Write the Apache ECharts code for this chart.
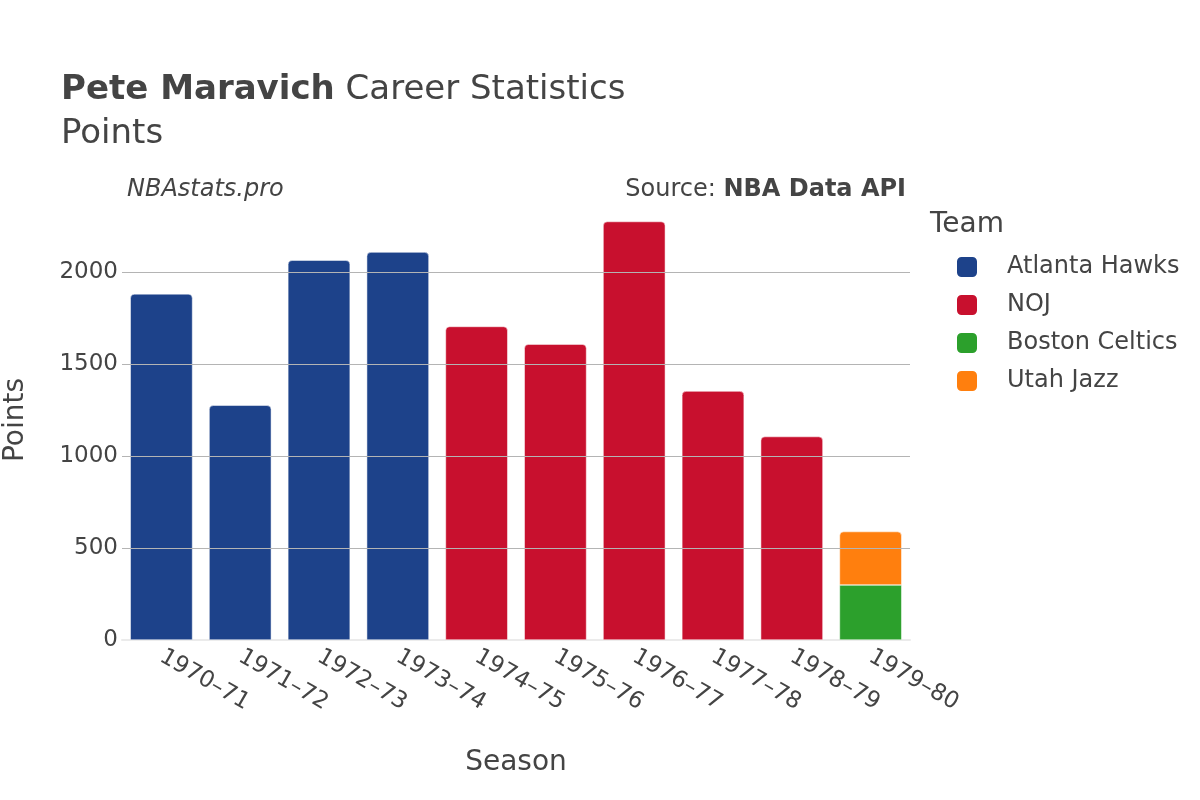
<!DOCTYPE html>
<html>
<head>
<meta charset="UTF-8">
<title>Pete Maravich Career Statistics</title>
<script src="https://cdn.jsdelivr.net/npm/echarts@6/dist/echarts.min.js"></script>
<style>
  html, body { margin: 0; padding: 0; background: #fff; }
  #main { width: 1200px; height: 800px; }
</style>
</head>
<body>
<div id="main"></div>
<script type="text/javascript">
    var seasons = ["1970–71","1971–72","1972–73","1973–74","1974–75","1975–76","1976–77","1977–78","1978–79","1979–80"];
    var atlantaHawks = [1880, 1275, 2063, 2107, null, null, null, null, null, null];
    var noj = [null, null, null, null, 1703, 1607, 2273, 1352, 1105, null];
    var bostonCeltics = [null, null, null, null, null, null, null, null, null, 299];
    var utahJazz = [null, null, null, null, null, null, null, null, null, 290];
    var gridValues = [500, 1000, 1500, 2000];

    var font = "DejaVu Sans";
    var myChart = echarts.init(document.getElementById('main'));

    function barSeries(name, data, color, radius) {
        return {
            name: name,
            type: 'bar',
            stack: 'total',
            data: data,
            barCategoryGap: '21%',
            itemStyle: { color: color, borderRadius: radius, borderColor: '#fff', borderWidth: 0.5 }
        };
    }

    var series = [
        barSeries('Atlanta Hawks', atlantaHawks, '#1d428a', [4, 4, 0, 0]),
        barSeries('NOJ', noj, '#c8102e', [4, 4, 0, 0]),
        barSeries('Boston Celtics', bostonCeltics, '#2ca02c', 0),
        barSeries('Utah Jazz', utahJazz, '#ff7f0e', [4, 4, 0, 0])
    ];
    // gridlines drawn behind bars
    series.unshift({
        type: 'line',
        data: [],
        silent: true,
        z: 0,
        markLine: {
            silent: true,
            symbol: 'none',
            label: { show: false },
            lineStyle: { color: '#b4b4b4', width: 1, type: 'solid' },
            data: gridValues.map(function (v) { return { yAxis: v }; })
        }
    });

    var option = {
        animation: false,
        textStyle: { fontFamily: font },
        title: [{
            text: '{b|Pete Maravich} Career Statistics\nPoints',
            left: 56,
            top: 63,
            textStyle: {
                fontFamily: font, fontSize: 34, fontWeight: 'normal', color: '#444', lineHeight: 44,
                rich: { b: { fontFamily: font, fontSize: 34, fontWeight: 'bold', color: '#444' } }
            }
        }],
        graphic: [
            { type: 'text', left: 127, top: 178, style: { text: 'NBAstats.pro', font: 'italic 24px "DejaVu Sans"', fill: '#444' } },
            { type: 'text', right: 294, top: 178, style: { text: '{n|Source: }{b|NBA Data API}', font: '24px "DejaVu Sans"', fill: '#444',
                rich: { n: { fontSize: 24, fontFamily: font, fill: '#444' }, b: { fontSize: 24, fontFamily: font, fontWeight: 'bold', fill: '#444' } } } },
            { type: 'text', left: 930, top: 211, style: { text: 'Team', font: '28px "DejaVu Sans"', fill: '#444' } }
        ],
        legend: {
            orient: 'vertical',
            left: 950,
            top: 250,
            icon: 'roundRect',
            itemWidth: 22,
            itemHeight: 22,
            itemGap: 14,
            data: ['Atlanta Hawks', 'NOJ', 'Boston Celtics', 'Utah Jazz'],
            textStyle: { fontFamily: font, fontSize: 24, color: '#444', padding: [0, 0, 0, 24] }
        },
        grid: { left: 122, right: 290, top: 200, bottom: 160, containLabel: false, outerBoundsMode: 'none' },
        xAxis: {
            type: 'category',
            data: seasons,
            name: 'Season',
            nameLocation: 'middle',
            nameGap: 109,
            nameTextStyle: { fontFamily: font, fontSize: 28, color: '#444' },
            axisLine: { show: true, lineStyle: { color: '#ebebeb', width: 2 } },
            axisTick: { show: false },
            axisLabel: { rotate: -30, fontFamily: font, fontSize: 23, color: '#444', margin: 15, interval: 0 }
        },
        yAxis: {
            type: 'value',
            min: 0,
            max: 2390,
            interval: 500,
            name: 'Points',
            nameLocation: 'middle',
            nameGap: 92,
            nameTextStyle: { fontFamily: font, fontSize: 28, color: '#444' },
            splitLine: { show: false },
            axisLine: { show: false },
            axisTick: { show: false },
            axisLabel: { fontFamily: font, fontSize: 23, color: '#444', margin: 4, showMaxLabel: false,
                formatter: function (v) { return String(v); } }
        },
        series: series
    };

    myChart.setOption(option);
</script>
</body>
</html>
